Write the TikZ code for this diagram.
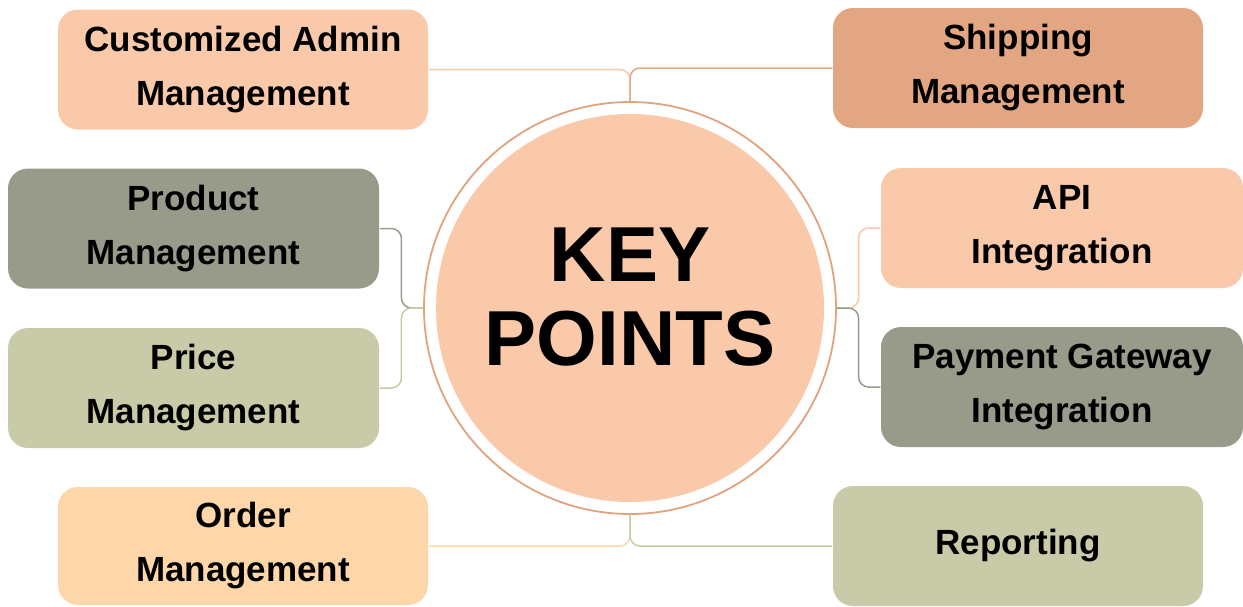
\documentclass[tikz,border=0pt]{standalone}
\usepackage{fontspec}
\setmainfont{Liberation Sans}
\usetikzlibrary{positioning,calc}
\definecolor{peach}{HTML}{F9C9AA}
\definecolor{rust}{HTML}{E3A683}
\definecolor{sage}{HTML}{989B89}
\definecolor{olive}{HTML}{C9CBA8}
\definecolor{apricot}{HTML}{FDD7A9}
\definecolor{ring}{HTML}{E0A37E}

\begin{document}
\begin{tikzpicture}[x=1pt, y=-1pt, line width=1.5pt]
    \tikzstyle{every node}=[font=\bfseries\fontsize{35}{54}\selectfont, text=black, align=center]
    \tikzstyle{topic}=[rectangle, rounded corners=20pt, inner sep=0pt, minimum width=370pt, minimum height=120pt]
    \tikzstyle{hv}=[rounded corners=10pt, to path={-| (\tikztotarget)}]
    \tikzstyle{hvh}=[rounded corners=10pt, to path={-| ($(\tikztostart)!.5!(\tikztotarget)$) |- (\tikztotarget)}]
    \useasboundingbox (0,0) rectangle (1243,606);
    % centre
    \node[circle, draw=ring, line width=1.8pt, inner sep=0pt, minimum size=412pt] (K) at (630,308) {};
    \node[circle, fill=peach, inner sep=0pt, minimum size=388pt] (Kin) at (K) {};
    \node[font=\bfseries\fontsize{78}{84}\selectfont, yshift=11pt] (kp) at (K) {KEY\\POINTS};
    % topics
    \node[topic, fill=peach]   (adm)   at (243,69.5) {Customized Admin\\Management};
    \node[topic, fill=rust]    (ship)  at (1018,68)  {Shipping\\Management};
    \node[topic, fill=sage, minimum width=371pt]  (prod)  at (193.5,228.5) {Product\\Management};
    \node[topic, fill=olive, minimum width=371pt] (price) at (193.5,388)   {Price\\Management};
    \node[topic, fill=apricot, minimum height=118pt] (order) at (243,546) {Order\\Management};
    \node[topic, fill=peach, minimum width=362pt] (api) at (1062,228) {API\\Integration};
    \node[topic, fill=sage, minimum width=362pt]  (pay) at (1062,387) {Payment Gateway\\Integration};
    \node[topic, fill=olive]   (rep)   at (1018,546) {Reporting};
    \path
(adm.east)   edge[hv, draw=peach]   (K.north)
(ship.west)  edge[hv, draw=rust]    (K.north)
(prod.east)  edge[hvh, draw=sage]   (K.west)
(price.east) edge[hvh, draw=olive]  (K.west)
(api.west)   edge[hvh, draw=peach]  (K.east)
(pay.west)   edge[hvh, draw=sage]   (K.east)
(order.east) edge[hv, draw=apricot] (K.south)
(rep.west)   edge[hv, draw=olive]   (K.south);
\end{tikzpicture}
\end{document}
